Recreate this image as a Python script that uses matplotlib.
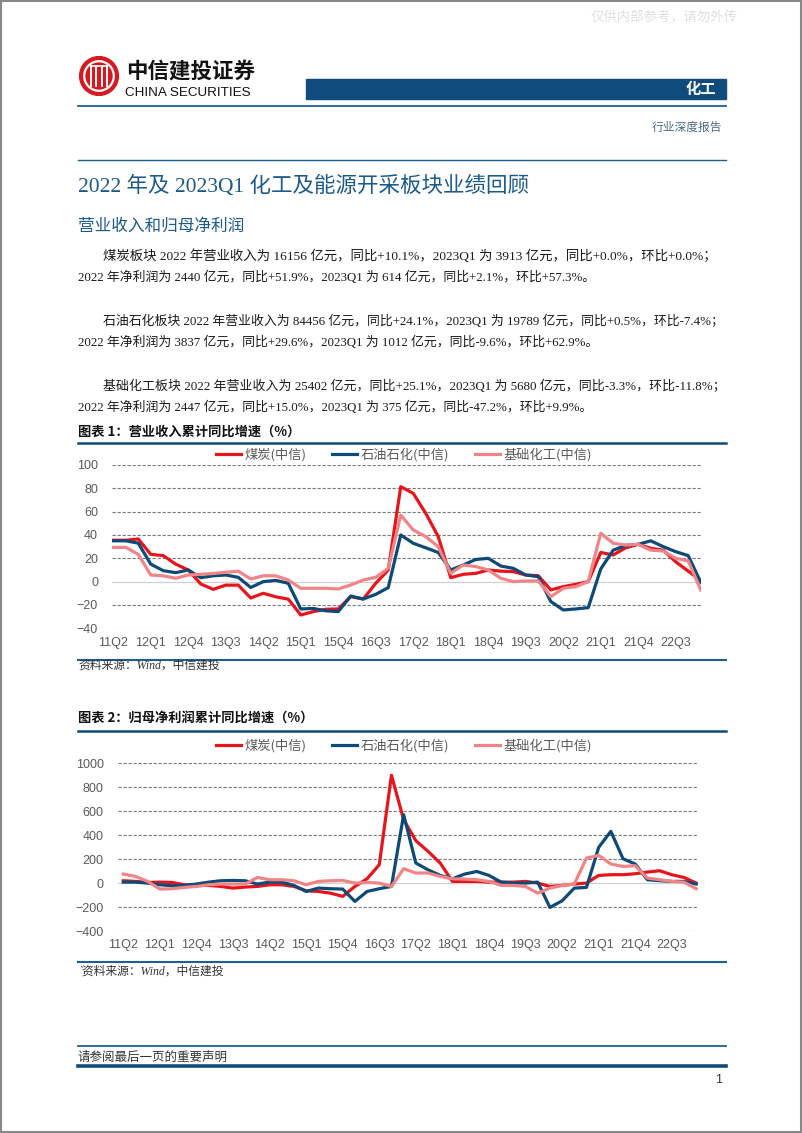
import matplotlib
matplotlib.use("Agg")
from matplotlib import pyplot as plt
from matplotlib.lines import Line2D
from matplotlib.patches import Circle, Rectangle
import numpy as np

# ---- data ----
quarters = ["11Q2", "11Q3", "11Q4", "12Q1", "12Q2", "12Q3", "12Q4", "13Q1", "13Q2", "13Q3",
            "13Q4", "14Q1", "14Q2", "14Q3", "14Q4", "15Q1", "15Q2", "15Q3", "15Q4", "16Q1",
            "16Q2", "16Q3", "16Q4", "17Q1", "17Q2", "17Q3", "17Q4", "18Q1", "18Q2", "18Q3",
            "18Q4", "19Q1", "19Q2", "19Q3", "19Q4", "20Q1", "20Q2", "20Q3", "20Q4", "21Q1",
            "21Q2", "21Q3", "21Q4", "22Q1", "22Q2", "22Q3", "22Q4", "23Q1"]
series_names = ["煤炭(中信)", "石油石化(中信)", "基础化工(中信)"]

# chart 1: revenue cumulative yoy (%)
rev_coal = [35.5, 35.5, 36.6, 23.4, 22.3, 15, 10, -2, -6.6, -3,
            -3, -14, -10, -13, -15, -28.6, -25.7, -23.7, -23.4, -12.9,
            -14.9, -1.4, 10, 81.4, 75.7, 58.6, 38.6, 3.4, 6.3, 7.1,
            10, 9, 8.6, 5.7, 5.1, -7.1, -4.3, -2.3, 0, 25,
            22.9, 29, 32, 28.6, 27, 17, 9, 1]
rev_oil = [35, 35, 33, 15, 9.4, 7.7, 10, 3.4, 5, 5.7,
           3.7, -5, 0, 1.1, -1.4, -23.4, -23, -25, -25.7, -12.3,
           -14.9, -10.9, -5.1, 40, 32.9, 29, 25, 10, 14.3, 19,
           20, 13.4, 11.4, 5.7, 4.3, -17, -24.3, -23.4, -22.3, 10.9,
           27, 31, 32, 35, 30, 25.7, 22.3, -0.6]
rev_chem = [29.4, 29.4, 23.4, 5.7, 5, 2.9, 5.7, 6.3, 7, 8,
            9, 2.3, 5, 5, 1.4, -5.7, -5.7, -5.7, -6.3, -2.9,
            1.4, 3.7, 11.4, 57, 44.3, 38.6, 30, 7.1, 14.3, 12.9,
            10, 2.9, 0, 0.6, 0.6, -12.9, -5.7, -4.3, 0, 41.4,
            32.9, 31.4, 32, 27, 26.3, 20, 17.7, -7.1]

# chart 2: net profit cumulative yoy (%)
np_coal = [19.5, 14, 5.6, 8, 5.6, -14, -19.5, -19.5, -28, -42,
           -33, -28, -14, -14, -28, -64, -70, -84, -111, -28,
           36, 153, 900, 529, 354, 265, 167, 14, 14, 14,
           8, 8, 8, 14, 0, -28, -19.5, -8, 0, 64,
           70, 70, 78, 92, 103, 70, 47, 0]
np_oil = [8, 8, 0, -14, -22, -19.5, -8, 8, 19.5, 22,
          19.5, -8, 8, 8, -19.5, -70, -42, -47, -50, -153,
          -70, -47, -28, 571, 167, 111, 64, 36, 75, 97,
          64, 8, 0, 0, 8, -203, -148, -42, -36, 298,
          432, 203, 159, 28, 20, 14, 14, -8]
np_chem = [75, 56, 14, -50, -47, -36, -28, -14, -8, -8,
           -8, 47, 28, 28, 19.5, -14, 14, 19.5, 22, 0,
           5.6, 0, -28, 120, 84, 84, 56, 36, 33, 28,
           14, -19.5, -19.5, -28, -84, -42, -19.5, -8, 209, 231,
           159, 139, 145, 42, 28, 14, 8, -47]

# ---- page ----
W, H = 802, 1133
fig = plt.figure(figsize=(W / 100, H / 100), dpi=100)
renderer = fig.canvas.get_renderer()

def fx(x):
    return x / W

def fy(y):
    return 1 - y / H

cjk = ["Noto Sans CJK SC", "DejaVu Sans"]
serif = ["Liberation Serif", "Noto Sans CJK SC"]
sans = ["Liberation Sans", "Noto Sans CJK SC"]
blue = "#0f4c7d"
line_blue = "#1f5f8f"

def hline(y, x0=78, x1=726, lw=1.0, color=line_blue):
    fig.add_artist(Line2D([fx(x0), fx(x1)], [fy(y), fy(y)], lw=lw, color=color))

# border
fig.add_artist(Rectangle((0.001, 0.001), 0.998, 0.998, fill=False, ec="#888888", lw=1.5))

# watermark
fig.text(fx(738), fy(17), "仅供内部参考，请勿外传", family=cjk, fontsize=9.6, color="#e0e0e0",
         ha="right", va="center")

# logo
logo_ax = fig.add_axes([fx(79), fy(96), fx(40), 40 / H])
logo_ax.set_xlim(-1, 1)
logo_ax.set_ylim(-1, 1)
logo_ax.axis("off")
logo_ax.add_patch(Circle((0, 0), 0.97, color="#d7191f"))
logo_ax.add_patch(Circle((0, 0), 0.74, fill=False, ec="white", lw=1.6))
for xv in [-0.42, -0.14, 0.14, 0.42]:
    logo_ax.plot([xv, xv], [-0.5, 0.5], color="white", lw=1.4)
logo_ax.plot([-0.42, 0.42], [0.5, 0.5], color="white", lw=1.2)
logo_ax.set_aspect("equal")

fig.text(fx(126), fy(71), "中信建投证券", family=cjk, fontsize=15.5, weight="bold",
         color="#111111", ha="left", va="center")
fig.text(fx(125), fy(92.5), "CHINA SECURITIES", family=sans, fontsize=9.7,
         color="#111111", ha="left", va="center")

# header bar
fig.add_artist(Rectangle((fx(306), fy(99)), fx(726) - fx(306), 20 / H, color=blue))
fig.text(fx(716), fy(89), "化工", family=cjk, fontsize=11, weight="bold", color="white",
         ha="right", va="center")
hline(106, lw=1.3)
fig.text(fx(722), fy(127), "行业深度报告", family=cjk, fontsize=8.5, color="#4a6b86",
         ha="right", va="center")
hline(160, lw=1.0)

# title and paragraphs
fig.text(fx(78), fy(186), "2022 年及 2023Q1 化工及能源开采板块业绩回顾", family=serif,
         fontsize=15.5, color="#1d5a8c", ha="left", va="center")
fig.text(fx(78), fy(226), "营业收入和归母净利润", family=cjk, fontsize=12,
         color="#1d5a8c", ha="left", va="center")

paras = [
    ("煤炭板块 2022 年营业收入为 16156 亿元，同比+10.1%，2023Q1 为 3913 亿元，同比+0.0%，环比+0.0%；",
     "2022 年净利润为 2440 亿元，同比+51.9%，2023Q1 为 614 亿元，同比+2.1%，环比+57.3%。", 256),
    ("石油石化板块 2022 年营业收入为 84456 亿元，同比+24.1%，2023Q1 为 19789 亿元，同比+0.5%，环比-7.4%；",
     "2022 年净利润为 3837 亿元，同比+29.6%，2023Q1 为 1012 亿元，同比-9.6%，环比+62.9%。", 321),
    ("基础化工板块 2022 年营业收入为 25402 亿元，同比+25.1%，2023Q1 为 5680 亿元，同比-3.3%，环比-11.8%；",
     "2022 年净利润为 2447 亿元，同比+15.0%，2023Q1 为 375 亿元，同比-47.2%，环比+9.9%。", 386),
]
for l1, l2, y in paras:
    t1 = fig.text(fx(103), fy(y), l1, family=serif, fontsize=9.6, color="#1a1a1a",
                  ha="left", va="center")
    for _ in range(3):  # fit first line to the justified width
        w = t1.get_window_extent(renderer).width
        t1.set_fontsize(t1.get_fontsize() * 619 / w)
    fig.text(fx(78), fy(y + 21.5), l2, family=serif, fontsize=9.3, color="#1a1a1a",
             ha="left", va="center")

colors = ["#e8141c", "#0e4a78", "#f08486"]


def draw_chart(box, xlim, ylim, yticks, data, legend_y):
    L, T, R, B = box
    ax = fig.add_axes([fx(L), fy(B), fx(R) - fx(L), (B - T) / H])
    x = np.arange(len(quarters))
    for vals, c, name in zip(data, colors, series_names):
        ax.plot(x, vals, color=c, lw=2.3, label=name, solid_joinstyle="round")
    ax.set_xlim(*xlim)
    ax.set_ylim(*ylim)
    ax.set_yticks(yticks)
    for yt in yticks:
        if yt == 0:
            ax.axhline(0, color="#d0d0d0", lw=0.9, zorder=0)
        else:
            ax.axhline(yt, color="#7a7a7a", lw=0.8, ls=(0, (3, 1.5)), zorder=0)
    ax.set_xticks(x[::3])
    ax.set_xticklabels(quarters[::3])
    for s in ax.spines.values():
        s.set_visible(False)
    ax.tick_params(length=0, labelsize=9, labelcolor="#595959", pad=6)
    ax.tick_params(axis="y", pad=10)
    for t in ax.get_xticklabels() + ax.get_yticklabels():
        t.set_family(sans)
    ax.legend(loc="center", bbox_to_anchor=(fx(404), fy(legend_y)), bbox_transform=fig.transFigure,
              ncol=3, frameon=False, handlelength=1.9, handletextpad=0.3, columnspacing=1.9,
              prop={"family": cjk, "size": 9.5}, labelcolor="#595959", borderaxespad=0, borderpad=0)
    return ax


# chart 1
fig.text(fx(78), fy(432), "图表 1：营业收入累计同比增速（%）", family=cjk, fontsize=9.5,
         weight="bold", color="#111111", ha="left", va="center")
hline(443, lw=1.8, color=blue)
draw_chart((112, 465, 701, 628.3), (-0.1, 47.02), (-40, 100), [-40, -20, 0, 20, 40, 60, 80, 100],
           [rev_coal, rev_oil, rev_chem], 455)
hline(660, lw=1.5, color=line_blue)
fig.text(fx(78), fy(666), "资料来源：Wind，中信建投", family=serif, style="italic", fontsize=8.5,
         color="#333333", ha="left", va="center")

# chart 2
fig.text(fx(78), fy(718), "图表 2：归母净利润累计同比增速（%）", family=cjk, fontsize=9.5,
         weight="bold", color="#111111", ha="left", va="center")
hline(731, lw=1.8, color=blue)
draw_chart((117.7, 763.3, 698, 931), (-0.46, 47.15), (-400, 1000),
           [-400, -200, 0, 200, 400, 600, 800, 1000], [np_coal, np_oil, np_chem], 746)
hline(962, lw=1.5, color=line_blue)
fig.text(fx(78), fy(972), "`资料来源：Wind，中信建投", family=serif, style="italic", fontsize=8.5,
         color="#333333", ha="left", va="center")

# footer
hline(1046, lw=1.3, color=line_blue)
fig.text(fx(78), fy(1057), "请参阅最后一页的重要声明", family=cjk, fontsize=9, color="#333333",
         ha="left", va="center")
hline(1066, lw=2.6, color=blue)
fig.text(fx(722), fy(1080), "1", family=sans, fontsize=9, color="#333333", ha="right", va="center")

fig.savefig("out.png", dpi=100)
